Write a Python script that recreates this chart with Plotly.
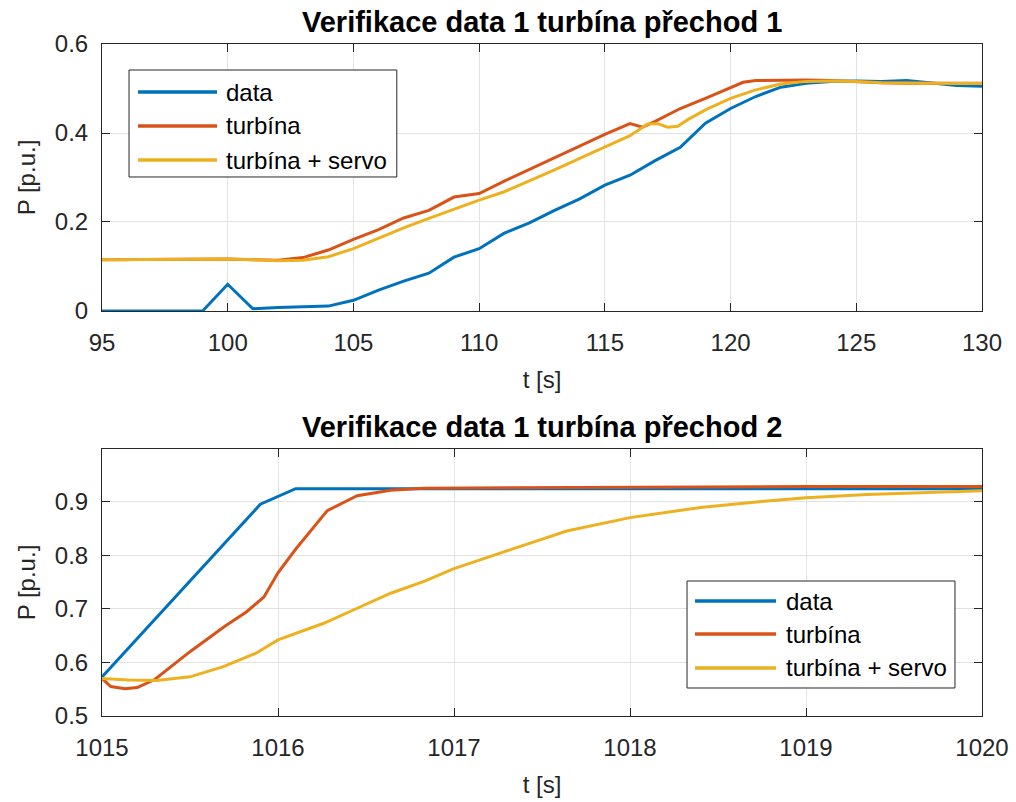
import plotly.graph_objects as go

# ---------------- data: transition 1 ----------------
t1_data = [95, 99, 100, 101, 102, 103, 104, 105, 106, 107, 108, 109, 110, 111, 112, 113,
           114, 115, 116, 117, 118, 119, 120, 121, 122, 123, 124, 125, 126, 127, 128, 129, 130]
p1_data = [0.0, 0.0, 0.06, 0.005, 0.008, 0.010, 0.011, 0.024, 0.047, 0.067, 0.085, 0.121,
           0.140, 0.175, 0.198, 0.226, 0.252, 0.283, 0.305, 0.338, 0.368, 0.422, 0.455,
           0.482, 0.503, 0.512, 0.516, 0.517, 0.516, 0.518, 0.513, 0.507, 0.505]

t1_turb = [95, 100, 101, 102, 103, 104, 105, 106, 107, 108, 109, 110, 111, 112, 113, 114,
           115, 116, 116.5, 117, 118, 119, 120, 120.5, 121, 122, 123, 124, 125, 126, 127,
           128, 129, 130]
p1_turb = [0.115, 0.117, 0.115, 0.114, 0.120, 0.137, 0.161, 0.183, 0.209, 0.226, 0.256,
           0.264, 0.292, 0.318, 0.345, 0.370, 0.397, 0.421, 0.413, 0.426, 0.455, 0.478,
           0.503, 0.514, 0.518, 0.519, 0.519, 0.518, 0.515, 0.513, 0.512, 0.512, 0.512, 0.512]

t1_serv = [95, 100, 101, 102, 103, 104, 105, 106, 107, 108, 109, 110, 111, 112, 113, 114,
           115, 116, 116.7, 117.1, 117.5, 117.9, 118.3, 119, 120, 121, 122, 123, 124, 125,
           126, 127, 128, 129, 130]
p1_serv = [0.115, 0.117, 0.115, 0.113, 0.114, 0.122, 0.140, 0.163, 0.187, 0.208, 0.229,
           0.249, 0.268, 0.292, 0.317, 0.343, 0.369, 0.394, 0.420, 0.421, 0.413, 0.415,
           0.430, 0.452, 0.478, 0.497, 0.510, 0.516, 0.517, 0.516, 0.513, 0.512, 0.511,
           0.511, 0.511]

# ---------------- data: transition 2 ----------------
t2_data = [1015, 1015.9, 1016.1, 1017, 1018, 1019, 1020]
p2_data = [0.573, 0.895, 0.924, 0.924, 0.924, 0.924, 0.924]

t2_turb = [1015, 1015.05, 1015.13, 1015.2, 1015.3, 1015.5, 1015.7, 1015.82, 1015.92,
           1016.0, 1016.1, 1016.28, 1016.45, 1016.64, 1016.83, 1017.5, 1018, 1019, 1020]
p2_turb = [0.570, 0.555, 0.551, 0.553, 0.568, 0.620, 0.668, 0.694, 0.722, 0.767, 0.811,
           0.883, 0.911, 0.921, 0.925, 0.926, 0.927, 0.928, 0.928]

t2_serv = [1015, 1015.15, 1015.31, 1015.5, 1015.69, 1015.88, 1016, 1016.26, 1016.45,
           1016.64, 1016.83, 1017, 1017.3, 1017.64, 1018, 1018.4, 1018.78, 1019, 1019.35,
           1019.73, 1020]
p2_serv = [0.570, 0.567, 0.566, 0.573, 0.592, 0.618, 0.642, 0.673, 0.701, 0.729, 0.751,
           0.775, 0.808, 0.845, 0.870, 0.889, 0.901, 0.907, 0.913, 0.917, 0.920]

series_names = ["data", "turbína", "turbína + servo"]
colors = ["#0072BD", "#D95319", "#EDB120"]
titles = ["Verifikace data 1 turbína přechod 1", "Verifikace data 1 turbína přechod 2"]
x_label = "t [s]"
y_label = "P [p.u.]"

FONT = "Liberation Sans, Arial, sans-serif"
AX = "#262626"
GRID = "#e3e3e3"

fig = go.Figure()

top = [(t1_data, p1_data), (t1_turb, p1_turb), (t1_serv, p1_serv)]
bot = [(t2_data, p2_data), (t2_turb, p2_turb), (t2_serv, p2_serv)]
for (x, y), name, c in zip(top, series_names, colors):
    fig.add_trace(go.Scatter(x=x, y=y, mode="lines", name=name, showlegend=False,
                             line=dict(color=c, width=3), xaxis="x", yaxis="y"))
for (x, y), name, c in zip(bot, series_names, colors):
    fig.add_trace(go.Scatter(x=x, y=y, mode="lines", name=name, showlegend=False,
                             line=dict(color=c, width=3), xaxis="x2", yaxis="y2"))

axis_common = dict(showline=True, linecolor=AX, linewidth=1, mirror="ticks",
                   ticks="inside", ticklen=8, tickcolor=AX, tickwidth=1,
                   showgrid=True, gridcolor=GRID, gridwidth=1, zeroline=False,
                   tickfont=dict(family=FONT, size=24, color=AX),
                   automargin=False)

xt = dict(text=x_label, font=dict(family=FONT, size=24, color=AX), standoff=16)
yt = dict(text=y_label, font=dict(family=FONT, size=24, color=AX), standoff=12)

fig.update_layout(
    width=1016, height=802,
    margin=dict(l=102, r=34, t=44, b=86),
    paper_bgcolor="white", plot_bgcolor="white",
    font=dict(family=FONT, color=AX),
    xaxis=dict(domain=[0, 1], anchor="y", range=[95, 130], dtick=5, tick0=95,
               title=xt, ticklabelstandoff=10, **axis_common),
    yaxis=dict(domain=[0.6027, 1], anchor="x", range=[0, 0.6], dtick=0.2, tick0=0,
               title=yt, ticklabelstandoff=8, **axis_common),
    xaxis2=dict(domain=[0, 1], anchor="y2", range=[1015, 1020], dtick=1, tick0=1015,
                title=xt, ticklabelstandoff=10, **axis_common),
    yaxis2=dict(domain=[0, 0.3973], anchor="x2", range=[0.5, 0.998], dtick=0.1, tick0=0.5,
                title=yt, ticklabelstandoff=8, **axis_common),
)

# subplot titles
for txt, xr, yr in zip(titles, ["x domain", "x2 domain"], ["y domain", "y2 domain"]):
    fig.add_annotation(text="<b>" + txt + "</b>", xref=xr, yref=yr, x=0.5, y=1.0,
                       yshift=22, showarrow=False, xanchor="center", yanchor="middle",
                       font=dict(family=FONT, size=29, color="black"))

# legend boxes (MATLAB style, long line samples)
def add_legend(xr, yr, box, line_x, text_x, ys):
    fig.add_shape(type="rect", xref=xr, yref=yr, x0=box[0], x1=box[1], y0=box[2], y1=box[3],
                  line=dict(color=AX, width=1), fillcolor="white", layer="above")
    for name, c, yy in zip(series_names, colors, ys):
        fig.add_shape(type="line", xref=xr, yref=yr, x0=line_x[0], x1=line_x[1], y0=yy, y1=yy,
                      line=dict(color=c, width=3.5), layer="above")
        fig.add_annotation(text=name, xref=xr, yref=yr, x=text_x, y=yy, showarrow=False,
                           xanchor="left", yanchor="middle",
                           font=dict(family=FONT, size=24, color="black"))

add_legend("x domain", "y domain", (0.0307, 0.335, 0.5019, 0.9026),
           (0.0409, 0.1307), 0.1386, (0.8202, 0.6929, 0.5655))
add_legend("x2 domain", "y2 domain", (0.6648, 0.9693, 0.1049, 0.5056),
           (0.6739, 0.7659), 0.7746, (0.4307, 0.3071, 0.1798))

fig.write_html("out.html", config={"displayModeBar": False},
               post_script="document.body.style.margin='0';document.body.style.overflow='hidden';")
